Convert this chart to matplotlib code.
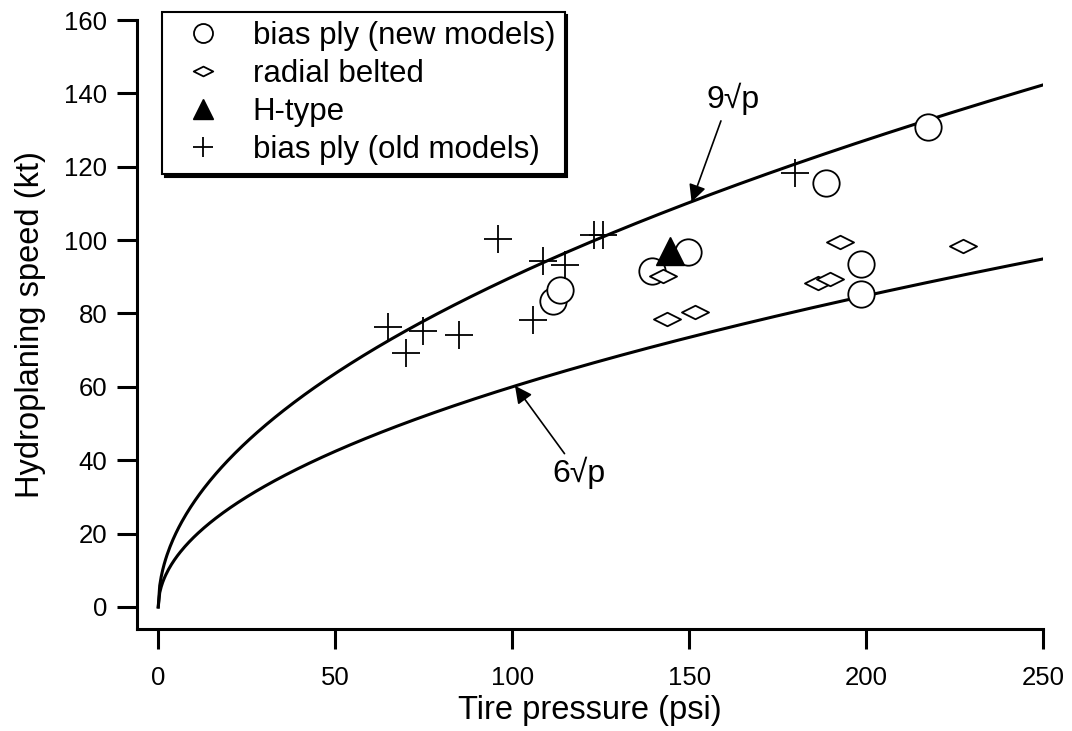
import numpy as np
import matplotlib.pyplot as plt
from matplotlib.path import Path

plt.rcParams['font.family'] = ['Liberation Sans', 'DejaVu Sans']

# bias ply (new models)
new_p = [111.5, 113.6, 139.6, 149.6, 198.5, 198.5, 217.6, 188.6]
new_v = [83.5, 86.5, 91.5, 96.7, 93.5, 85.4, 130.7, 115.6]
# radial belted
rad_p = [142.7, 143.7, 151.7, 192.7, 186.5, 189.8, 227.5]
rad_v = [90.2, 78.4, 80.4, 99.4, 88.4, 89.5, 98.5]
# H-type
h_p = [144.6]
h_v = [97.0]
# bias ply (old models)
old_p = [64.9, 74.9, 70.0, 84.9, 96.0, 108.8, 114.8, 105.8, 123.2, 125.8, 179.9]
old_v = [76.3, 75.2, 69.3, 74.2, 100.3, 94.2, 93.3, 78.2, 101.3, 101.3, 118.4]

xticks = [0, 50, 100, 150, 200, 250]
yticks = [0, 20, 40, 60, 80, 100, 120, 140, 160]

# flat diamond marker
diamond = Path([(-1, 0), (0, 0.5), (1, 0), (0, -0.5), (-1, 0)],
               [Path.MOVETO, Path.LINETO, Path.LINETO, Path.LINETO, Path.CLOSEPOLY])

fig = plt.figure(figsize=(10.72, 7.31), dpi=100)
ax = fig.add_axes([137/1072, 1-629/731, (1043-137)/1072, (629-20)/731])

p = np.linspace(0, 250, 600)
ax.plot(p, 9*np.sqrt(p), color='black', lw=2.2, zorder=2)
ax.plot(p, 6*np.sqrt(p), color='black', lw=2.2, zorder=2)

ax.plot(new_p, new_v, 'o', ms=19, mfc='white', mec='black', mew=1.3,
        label='bias ply (new models)', zorder=3)
ax.plot(rad_p, rad_v, linestyle='none', marker=diamond, ms=19.5, mfc='white',
        mec='black', mew=1.3, label='radial belted', zorder=3)
ax.plot(h_p, h_v, '^', ms=19.5, color='black', label='H-type', zorder=4)
ax.plot(old_p, old_v, '+', ms=20, color='black', mew=1.3,
        label='bias ply (old models)', zorder=3)

arrow = dict(arrowstyle='-|>', color='black', lw=1.2, mutation_scale=26,
             shrinkA=0, shrinkB=0)
ax.annotate('', xy=(150.7, 110.4), xytext=(159.0, 132.5), arrowprops=arrow)
ax.text(162.5, 138.5, '9√p', fontsize=23, ha='center', va='center')
ax.annotate('', xy=(100.8, 60.3), xytext=(114.8, 41.8), arrowprops=arrow)
ax.text(119, 36.5, '6√p', fontsize=23, ha='center', va='center')

ax.set_xlim(-6, 250)
ax.set_ylim(-6, 160)
ax.set_xticks(xticks)
ax.set_yticks(yticks)
ax.tick_params(direction='out', length=14.5, width=2.2, labelsize=18.5)
ax.tick_params(axis='x', pad=12)
ax.tick_params(axis='y', pad=7)
ax.spines['right'].set_visible(False)
ax.spines['top'].set_visible(False)
ax.spines['left'].set_linewidth(2.2)
ax.spines['bottom'].set_linewidth(2.2)

ax.set_xlabel('Tire pressure (psi)', fontsize=23.5, labelpad=4)
ax.set_ylabel('Hydroplaning speed (kt)', fontsize=23.5, labelpad=13)

leg = ax.legend(loc='upper left', bbox_to_anchor=(162/1072, 1-12/731),
                bbox_transform=fig.transFigure, fontsize=22.5, markerscale=0.72,
                handlelength=2.0, handletextpad=0.6, labelspacing=0.25,
                borderpad=0.3, borderaxespad=0, fancybox=False,
                shadow={'color': 'black', 'alpha': 1}, framealpha=1)
leg.get_frame().set_edgecolor('black')
leg.get_frame().set_linewidth(1.5)

fig.savefig('out.png', dpi=100)
